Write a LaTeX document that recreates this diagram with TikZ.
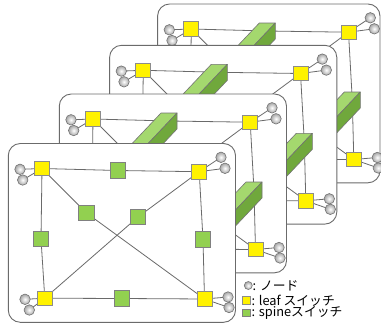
\documentclass[tikz,border=0pt]{standalone}
\usepackage{fontspec}
\newfontfamily\jpfont{Noto Sans CJK JP}
\usetikzlibrary{calc}
\definecolor{spgreen}{HTML}{92D050}
\definecolor{barlight}{HTML}{A4D86E}
\definecolor{bardark}{HTML}{70A83C}
\definecolor{lnkgray}{HTML}{6A6A6A}
\tikzset{
 lnk/.style={draw=lnkgray, line width=0.8pt},
 panelbox/.style={draw=black!58, line width=0.9pt, fill=white, rounded corners=12pt},
 leafsw/.style={draw=black!45, fill=yellow, minimum width=15pt, minimum height=14.5pt, inner sep=0pt, line width=0.8pt},
 spinesw/.style={draw=black!50, fill=spgreen, minimum size=15.5pt, inner sep=0pt, line width=0.8pt},
 hostnd/.style={circle, draw=black!55, inner color=white, outer color=black!35, minimum size=10.5pt, inner sep=0pt, line width=0.6pt},
 bartop/.style={fill=barlight, draw=black!55, line width=0.6pt, line join=round},
 barside/.style={fill=bardark, draw=black!55, line width=0.6pt, line join=round},
 legtext/.style={anchor=west, inner sep=0pt, font=\jpfont\fontsize{12.8}{14}\selectfont},
}
% #1 id, #2 dx, #3 dy, #4 width, #5 bars (1) or flat (0)
\newcommand\drawpanel[5]{%
\begin{scope}[shift={(#2,#3)}]
 \draw[panelbox] (8.3,143.5) rectangle ({8.3+#4},322.3);
 \coordinate (#1tl) at (42,168.5);
 \coordinate (#1tr) at (199.2,171.7);
 \coordinate (#1bl) at (44.8,298.2);
 \coordinate (#1br) at (204.5,299);
 \coordinate (#1top) at (118,170.5);
 \coordinate (#1bot) at (122,298.5);
 \coordinate (#1lft) at (41,239);
 \coordinate (#1rgt) at (203,239.5);
 \coordinate (#1dga) at (86.5,213);
 \coordinate (#1dgb) at (138,217);
 \coordinate (#1tlA) at (20,169.3);
 \coordinate (#1tlB) at (22.7,180);
 \coordinate (#1trA) at (221,157.3);
 \coordinate (#1trB) at (225,168.3);
 \coordinate (#1blA) at (25,299.3);
 \coordinate (#1blB) at (29.3,310);
 \coordinate (#1brA) at (228,297);
 \coordinate (#1brB) at (229,307.5);
 \draw[lnk] (#1tl) -- (#1top) -- (#1tr) -- (#1rgt) -- (#1br) -- (#1bot) -- (#1bl) -- (#1lft) -- (#1tl);
 \draw[lnk] (#1tl) -- (#1dga) -- (#1br);
 \draw[lnk] (#1bl) -- (#1dgb) -- (#1tr);
 \draw[lnk] (#1tlA) -- (#1tl) -- (#1tlB);
 \draw[lnk] (#1trA) -- (#1tr) -- (#1trB);
 \draw[lnk] (#1blA) -- (#1bl) -- (#1blB);
 \draw[lnk] (#1brA) -- (#1br) -- (#1brB);
 \foreach \h in {tlA,tlB,trA,trB,blA,blB,brA,brB} {\node[hostnd] (#1\h n) at (#1\h) {};}
 \foreach \l in {tl,tr,bl,br} {\node[leafsw] (#1\l sw) at (#1\l) {};}
 \foreach \s in {bot,lft,dga,dgb} {\node[spinesw] (#1\s sw) at (#1\s) {};}
 \ifnum#5=1
  \foreach \s in {top,rgt} {
   \filldraw[bartop] ($(#1\s)+(-8,-8)$) -- ($(#1\s)+(8,-8)$) -- ++(-35,37) -- ++(-16,0) -- cycle;
   \filldraw[barside] ($(#1\s)+(8,-8)$) -- ($(#1\s)+(8,8)$) -- ++(-35,37) -- ++(0,-16) -- cycle;
  }
 \else
  \foreach \s in {top,rgt} {\node[spinesw] (#1\s sw) at (#1\s) {};}
 \fi
\end{scope}}
\begin{document}
\begin{tikzpicture}[x=1pt,y=-1pt]
\useasboundingbox (0,0) rectangle (381,324);
\drawpanel{pd}{149.3}{-139.5}{222.4}{1}
\drawpanel{pc}{101.3}{-98.2}{227.2}{1}
\drawpanel{pb}{51}{-49.5}{227.2}{1}
\drawpanel{pa}{0}{0}{227.2}{0}
% legend
\node[hostnd, minimum size=8pt] (lgnode) at (248.3,285.5) {};
\node[legtext] (lgnodet) at (252.5,285.5) {: ノード};
\node[draw=black!45, fill=yellow, minimum size=7.5pt, inner sep=0pt, line width=0.6pt] (lgleaf) at (246.5,300.5) {};
\node[legtext] (lgleaft) at (251.3,300.5) {: leaf スイッチ};
\node[draw=black!50, fill=spgreen, minimum size=7.5pt, inner sep=0pt, line width=0.6pt] (lgspine) at (246.5,313) {};
\node[legtext] (lgspinet) at (251.3,313) {: spineスイッチ};
\end{tikzpicture}
\end{document}
